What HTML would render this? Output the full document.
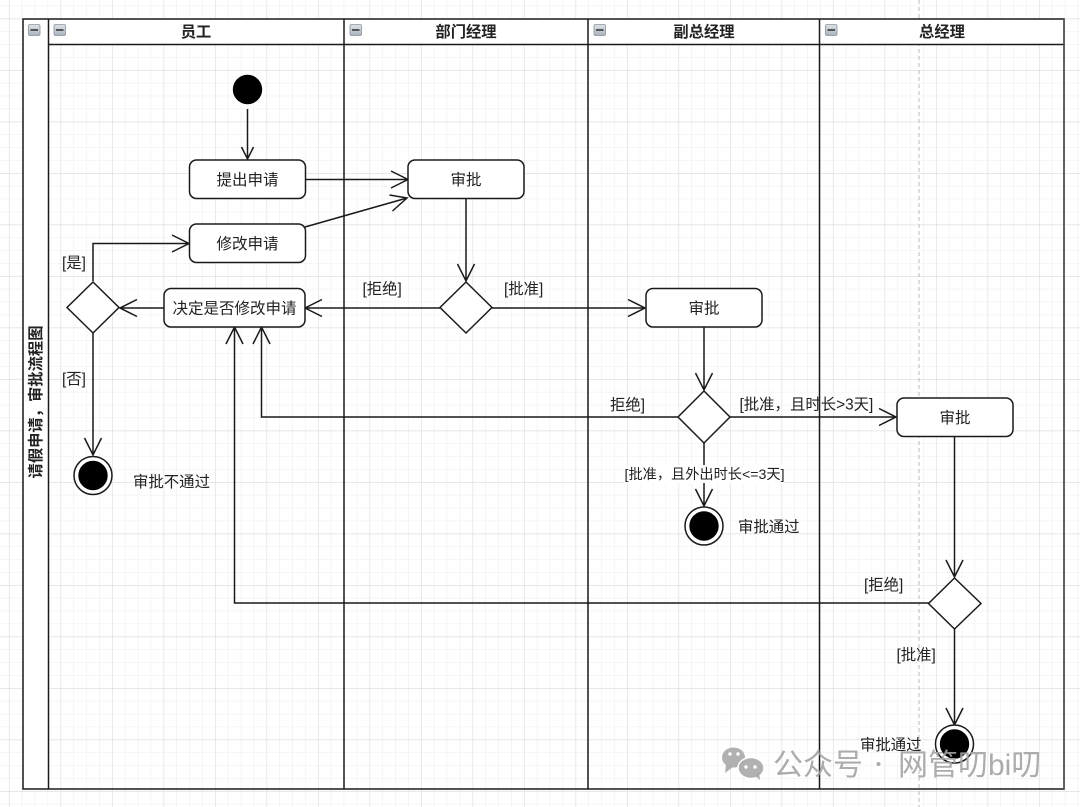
<!DOCTYPE html>
<html><head><meta charset="utf-8"><style>
html,body{margin:0;padding:0;background:#fff}
svg{display:block;filter:blur(.3px)}
text{font-family:"Liberation Sans","Noto Sans CJK SC",sans-serif;fill:#222}
</style></head><body>
<svg width="1080" height="807" viewBox="0 0 1080 807" xmlns="http://www.w3.org/2000/svg">
<defs>
<pattern id="minor" x="-3.9" y="5.6" width="12.875" height="12.875" patternUnits="userSpaceOnUse">
<path d="M0 0H12.875M0 0V12.875" stroke="#ececec" stroke-width="1" fill="none"/>
</pattern>
<pattern id="major" x="9" y="18.5" width="51.5" height="51.5" patternUnits="userSpaceOnUse">
<path d="M0 0H51.5M0 0V51.5" stroke="#e0e0e0" stroke-width="1.4" fill="none"/>
</pattern>
<linearGradient id="btn" x1="0" y1="0" x2="0" y2="1"><stop offset="0" stop-color="#dfe3e8"/><stop offset="1" stop-color="#a9b2bc"/></linearGradient>
</defs>
<rect width="1080" height="807" fill="#fff"/>
<rect width="1080" height="807" fill="url(#minor)"/>
<rect width="1080" height="807" fill="url(#major)"/>
<line x1="919" y1="0" x2="919" y2="807" stroke="#bbb" stroke-width="1" stroke-dasharray="4 3"/>

<!-- swimlane frame -->
<rect x="23" y="19" width="25" height="770" fill="#fff"/>
<rect x="48.500" y="19" width="1016" height="25" fill="#fff"/>
<g fill="none" stroke="#1a1a1a" stroke-width="1.500">
<rect x="23" y="19" width="1041" height="770"/>
<line x1="48.500" y1="19" x2="48.500" y2="789"/>
<line x1="48.500" y1="44.500" x2="1064" y2="44.500"/>
<line x1="344" y1="19" x2="344" y2="789"/>
<line x1="588" y1="19" x2="588" y2="789"/>
<line x1="819.500" y1="19" x2="819.500" y2="789"/>
</g>
<line x1="1064" y1="19" x2="1064" y2="789" stroke="#555" stroke-width="1.500"/>

<!-- collapse buttons -->
<g stroke="#8a929a" stroke-width="0.800" fill="url(#btn)">
<rect x="28.500" y="24.500" width="11.500" height="11" rx="1.500"/>
<rect x="54" y="24.500" width="11.500" height="11" rx="1.500"/>
<rect x="350" y="24.500" width="11.500" height="11" rx="1.500"/>
<rect x="594" y="24.500" width="11.500" height="11" rx="1.500"/>
<rect x="825.500" y="24.500" width="11.500" height="11" rx="1.500"/>
</g>
<g stroke="#222" stroke-width="1.400">
<line x1="30.500" y1="30" x2="38" y2="30"/>
<line x1="56" y1="30" x2="63.500" y2="30"/>
<line x1="352" y1="30" x2="359.500" y2="30"/>
<line x1="596" y1="30" x2="603.500" y2="30"/>
<line x1="827.500" y1="30" x2="835" y2="30"/>
</g>

<!-- headers -->
<g font-size="15.300" font-weight="bold" text-anchor="middle">
<text x="196" y="37">员工</text>
<text x="466" y="37">部门经理</text>
<text x="704" y="37">副总经理</text>
<text x="942" y="37">总经理</text>
<text transform="translate(41,402) rotate(-90)">请假申请，审批流程图</text>
</g>

<!-- connectors -->
<g fill="none" stroke="#1a1a1a" stroke-width="1.500">
<path d="M247.500 109V159M241.500 147L247.500 159L253.500 147"/>
<path d="M305 179.500H408M391 171L408 179.500L391 188"/>
<path d="M305 227L407 198M392.500 211L407 198L389.500 195"/>
<path d="M93 281V243.500H189M172 235L189 243.500L172 252"/>
<path d="M466 198V281M457.500 264L466 281L474.500 264"/>
<path d="M440 308H305M322 299.500L305 308L322 316.500"/>
<path d="M164 308H120M137 299.500L120 308L137 316.500"/>
<path d="M93 333V455M84.500 438L93 455L101.500 438"/>
<path d="M492 308H645M628 299.500L645 308L628 316.500"/>
<path d="M704 327V390M695.500 373L704 390L712.500 373"/>
<path d="M678 417H261.500V327M253 344L261.500 327L270 344"/>
<path d="M730 417H896M879 408.500L896 417L879 425.500"/>
<path d="M704 443V506M695.500 489L704 506L712.500 489"/>
<path d="M954.500 436V577M946 560L954.500 577L963 560"/>
<path d="M929 603H234.500V327M226 344L234.500 327L243 344"/>
<path d="M954.500 629V725M946 708L954.500 725L963 708"/>
</g>

<!-- start -->
<circle cx="247.500" cy="89.500" r="14.700" fill="#000"/>

<!-- actions -->
<g fill="#fff" stroke="#1a1a1a" stroke-width="1.500">
<rect x="189.500" y="160" width="116" height="38.500" rx="7"/>
<rect x="189.500" y="224" width="116" height="38.500" rx="7"/>
<rect x="164" y="288.500" width="141" height="38.500" rx="7"/>
<rect x="408" y="160" width="116" height="38.500" rx="7"/>
<rect x="646" y="288.500" width="116" height="38.500" rx="7"/>
<rect x="897" y="398" width="116" height="38.500" rx="7"/>
<polygon points="93,282 119,307.500 93,333 67,307.500"/>
<polygon points="466,282 492,307.500 466,333 440,307.500"/>
<polygon points="704,391 730,417 704,443 678,417"/>
<polygon points="954.500,578 981,603.500 954.500,629 928.500,603.500"/>
</g>

<!-- end nodes -->
<g>
<circle cx="93" cy="475.500" r="19" fill="#fff" stroke="#1a1a1a" stroke-width="1.500"/>
<circle cx="93" cy="475.500" r="14.700" fill="#000"/>
<circle cx="704" cy="526" r="19" fill="#fff" stroke="#1a1a1a" stroke-width="1.500"/>
<circle cx="704" cy="526" r="14.700" fill="#000"/>
<circle cx="954.500" cy="744" r="19" fill="#fff" stroke="#1a1a1a" stroke-width="1.500"/>
<circle cx="954.500" cy="744" r="14.700" fill="#000"/>
</g>

<!-- node labels -->
<g font-size="15.500" text-anchor="middle">
<text x="247.500" y="185">提出申请</text>
<text x="247.500" y="249">修改申请</text>
<text x="234.500" y="313.500">决定是否修改申请</text>
<text x="466" y="185">审批</text>
<text x="704" y="313.500">审批</text>
<text x="955" y="423">审批</text>
</g>

<!-- edge labels -->
<rect x="624" y="465" width="160" height="18" fill="#fff"/>
<g font-size="15.400" text-anchor="start">
<text x="62" y="268">[是]</text>
<text x="62" y="384">[否]</text>
<text x="362.500" y="294">[拒绝]</text>
<text x="504" y="294">[批准]</text>
<text x="610" y="410">拒绝]</text>
<text x="864" y="590">[拒绝]</text>
<text x="896.500" y="660">[批准]</text>
<text x="133" y="487">审批不通过</text>
<text x="738" y="532">审批通过</text>
<text x="860" y="750">审批通过</text>
<text x="739.500" y="409.500">[批准，且时长&gt;3天]</text>
<text x="624.500" y="479" font-size="14.200">[批准，且外出时长&lt;=3天]</text>
</g>

<!-- watermark -->
<g fill="#a8a8a8" fill-opacity="0.9">
<ellipse cx="733.500" cy="757.500" rx="11.500" ry="10"/>
<path d="M726 765L725 773L733 767Z"/>
<ellipse cx="751" cy="768" rx="13" ry="10.500" stroke="#fff" stroke-width="1.500"/>
<path d="M755 776L760 780L759 772Z"/>
</g>
<g fill="#fff"><circle cx="730" cy="754" r="1.700"/><circle cx="738" cy="754" r="1.700"/><circle cx="746" cy="767" r="1.700"/><circle cx="755" cy="767" r="1.700"/></g>
<g font-size="30" style="fill:#a3a3a3;fill-opacity:.9">
<text x="773" y="775" style="fill:#a3a3a3;fill-opacity:.9">公众号</text>
<circle cx="878.500" cy="764" r="2" fill="#a3a3a3"/>
<text x="898" y="775" style="fill:#a3a3a3;fill-opacity:.9">网管叨bi叨</text>
</g>
</svg>
</body></html>
